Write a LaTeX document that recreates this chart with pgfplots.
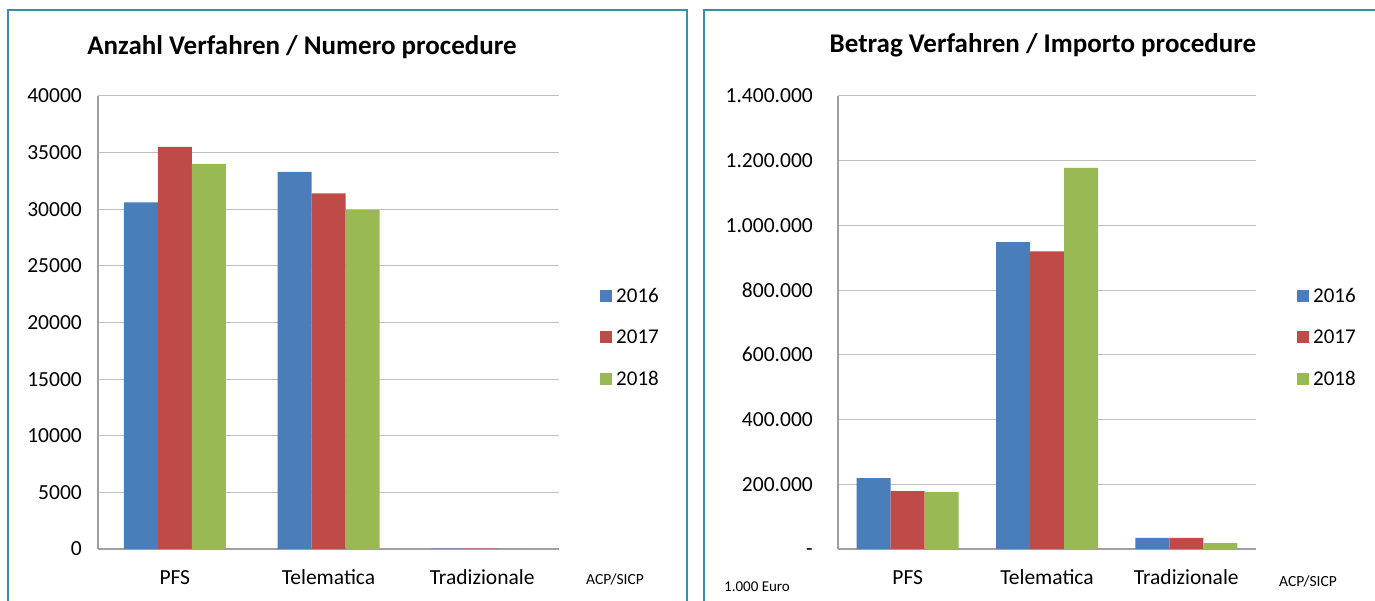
\documentclass[border=0pt]{standalone}
\usepackage{fontspec}
\setmainfont{Carlito}
\usepackage{pgfplots}
\pgfplotsset{compat=1.18}
\definecolor{cA}{HTML}{4A7EBB}
\definecolor{cB}{HTML}{BE4B48}
\definecolor{cC}{HTML}{98B954}
\definecolor{frame}{HTML}{3A8FA8}
\definecolor{gridgray}{HTML}{BFBFBF}
\definecolor{axgray}{HTML}{A0A0A0}
\pgfplotsset{
  sq/.style={fill=#1, draw=none,
    legend image code/.code={\fill[#1] (0pt,-6pt) rectangle (12pt,6pt);}},
  common/.style={
    scale only axis,
    ybar=0pt, bar width=34pt,
    xmin=-0.5, xmax=2.5, ymin=0,
    xtick={0,1,2}, xticklabels={PFS,Telematica,Tradizionale},
    axis x line*=bottom, axis y line*=left,
    axis line style={draw=axgray, line width=1.4pt, -},
    major tick length=0pt,
    ymajorgrids, grid style={gridgray, line width=1pt},
    scaled y ticks=false,
    tick label style={font=\fontsize{21.5}{25}\selectfont, inner sep=0pt},
    xticklabel style={anchor=base, yshift=-36pt},
    legend cell align=left,
    legend style={draw=none, fill=none, inner sep=0pt, row sep=18pt,
      font=\fontsize{21}{25}\selectfont,
      nodes={inner sep=4pt, anchor=west}},
  }
}
\begin{document}
\begin{tikzpicture}[x=1pt,y=1pt]
\useasboundingbox (0,0) rectangle (1375,601);
\clip (0,0) rectangle (1375,601);
\draw[frame, line width=2pt] (8,591) rectangle (687,-20);
\draw[frame, line width=2pt] (704,591) rectangle (1400,-20);

\node[font=\bfseries\fontsize{27}{31}\selectfont] at (302,554) {Anzahl Verfahren / Numero procedure};
\node[font=\bfseries\fontsize{27}{31}\selectfont] at (1043,556) {Betrag Verfahren / Importo procedure};

\begin{axis}[common,
  at={(98pt,52pt)}, anchor=south west,
  width=461pt, height=453pt,
  ymax=40000,
  ytick={0,5000,10000,15000,20000,25000,30000,35000,40000},
  yticklabels={0,5000,10000,15000,20000,25000,30000,35000,40000},
  yticklabel style={anchor=base east, xshift=-16pt, yshift=-7pt},
  legend style={at={(1.089,0.585)}, anchor=north west},
]
\addplot[sq=cA] coordinates {(0,30600) (1,33300) (2,40)};
\addplot[sq=cB] coordinates {(0,35500) (1,31400) (2,40)};
\addplot[sq=cC] coordinates {(0,34000) (1,29950) (2,20)};
\legend{2016,2017,2018}
\end{axis}

\begin{axis}[common,
  at={(838pt,52pt)}, anchor=south west,
  width=418pt, height=453pt,
  ymax=1400000,
  ytick={0,200000,400000,600000,800000,1000000,1200000,1400000},
  yticklabels={-,200.000,400.000,600.000,800.000,1.000.000,1.200.000,1.400.000},
  yticklabel style={anchor=base east, xshift=-25pt, yshift=-7pt},
  legend style={at={(1.098,0.585)}, anchor=north west},
]
\addplot[sq=cA] coordinates {(0,219000) (1,948000) (2,34000)};
\addplot[sq=cB] coordinates {(0,179000) (1,920000) (2,34000)};
\addplot[sq=cC] coordinates {(0,176000) (1,1178000) (2,18000)};
\legend{2016,2017,2018}
\end{axis}

\node[font=\fontsize{15.5}{18}\selectfont] at (615,22) {ACP/SICP};
\node[font=\fontsize{15.5}{18}\selectfont] at (1308,20) {ACP/SICP};
\node[font=\fontsize{15}{18}\selectfont] at (757,14) {1.000 Euro};
\end{tikzpicture}
\end{document}
